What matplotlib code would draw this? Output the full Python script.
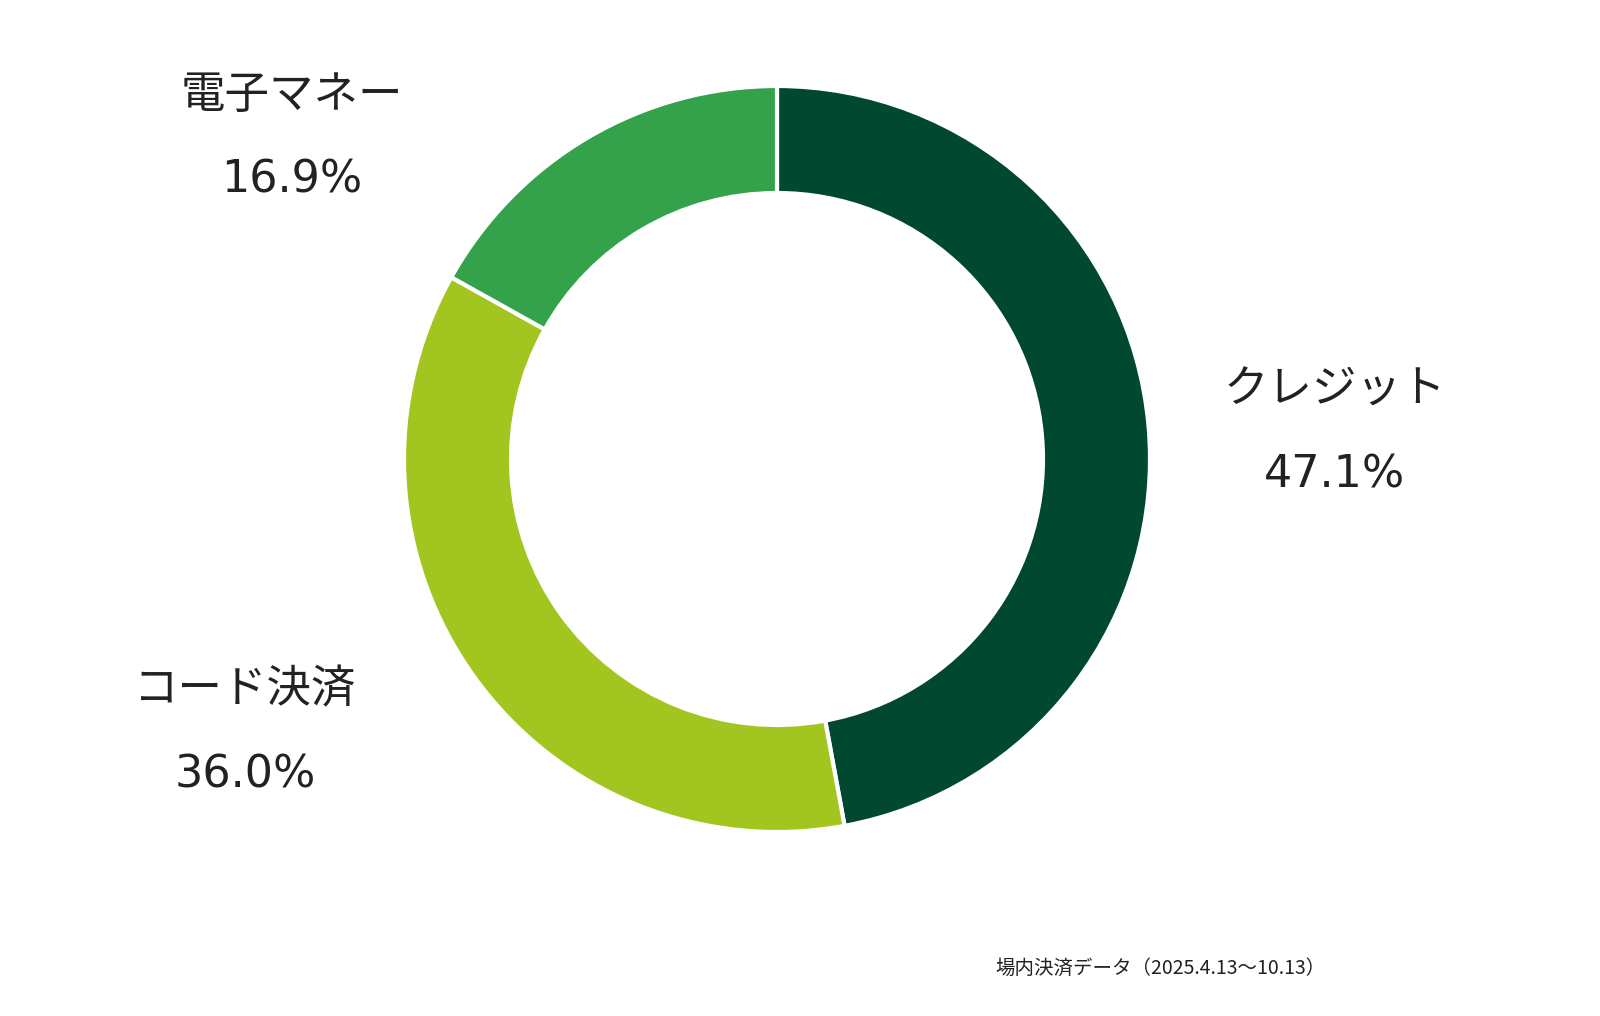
import matplotlib
matplotlib.use("Agg")
import matplotlib.pyplot as plt

plt.rcParams['font.family'] = ['Noto Sans CJK JP', 'DejaVu Sans']

categories = ["クレジット", "コード決済", "電子マネー"]
values = [47.1, 36.0, 16.9]
colors = ["#004830", "#A2C61F", "#34A24A"]
note = "場内決済データ（2025.4.13～10.13）"

fig = plt.figure(figsize=(16, 10.16), dpi=100)
ax = fig.add_axes([0, 0, 1, 1])
ax.set_xlim(0, 1600)
ax.set_ylim(1016, 0)
ax.set_aspect('equal')
ax.axis('off')

# y axis is inverted, so counterclock=True draws clockwise on screen
ax.pie(values, colors=colors, startangle=-90, counterclock=True,
       center=(777, 459), radius=373,
       wedgeprops=dict(width=107, edgecolor='white', linewidth=3))
ax.set_xlim(0, 1600)
ax.set_ylim(1016, 0)

label_pos = [(1335, 390), (245, 690), (292, 95)]
for (x, y), c, v in zip(label_pos, categories, values):
    ax.text(x, y, c, fontsize=32, ha='center', va='center', color='#222222')
    ax.text(x, y + 85, f"{v:.1f}%", fontsize=32, ha='center', va='center',
            color='#222222', family='DejaVu Sans')

ax.text(1160, 968, note, fontsize=14, ha='center', va='center', color='#222222')
fig.savefig("out.png", dpi=100)
